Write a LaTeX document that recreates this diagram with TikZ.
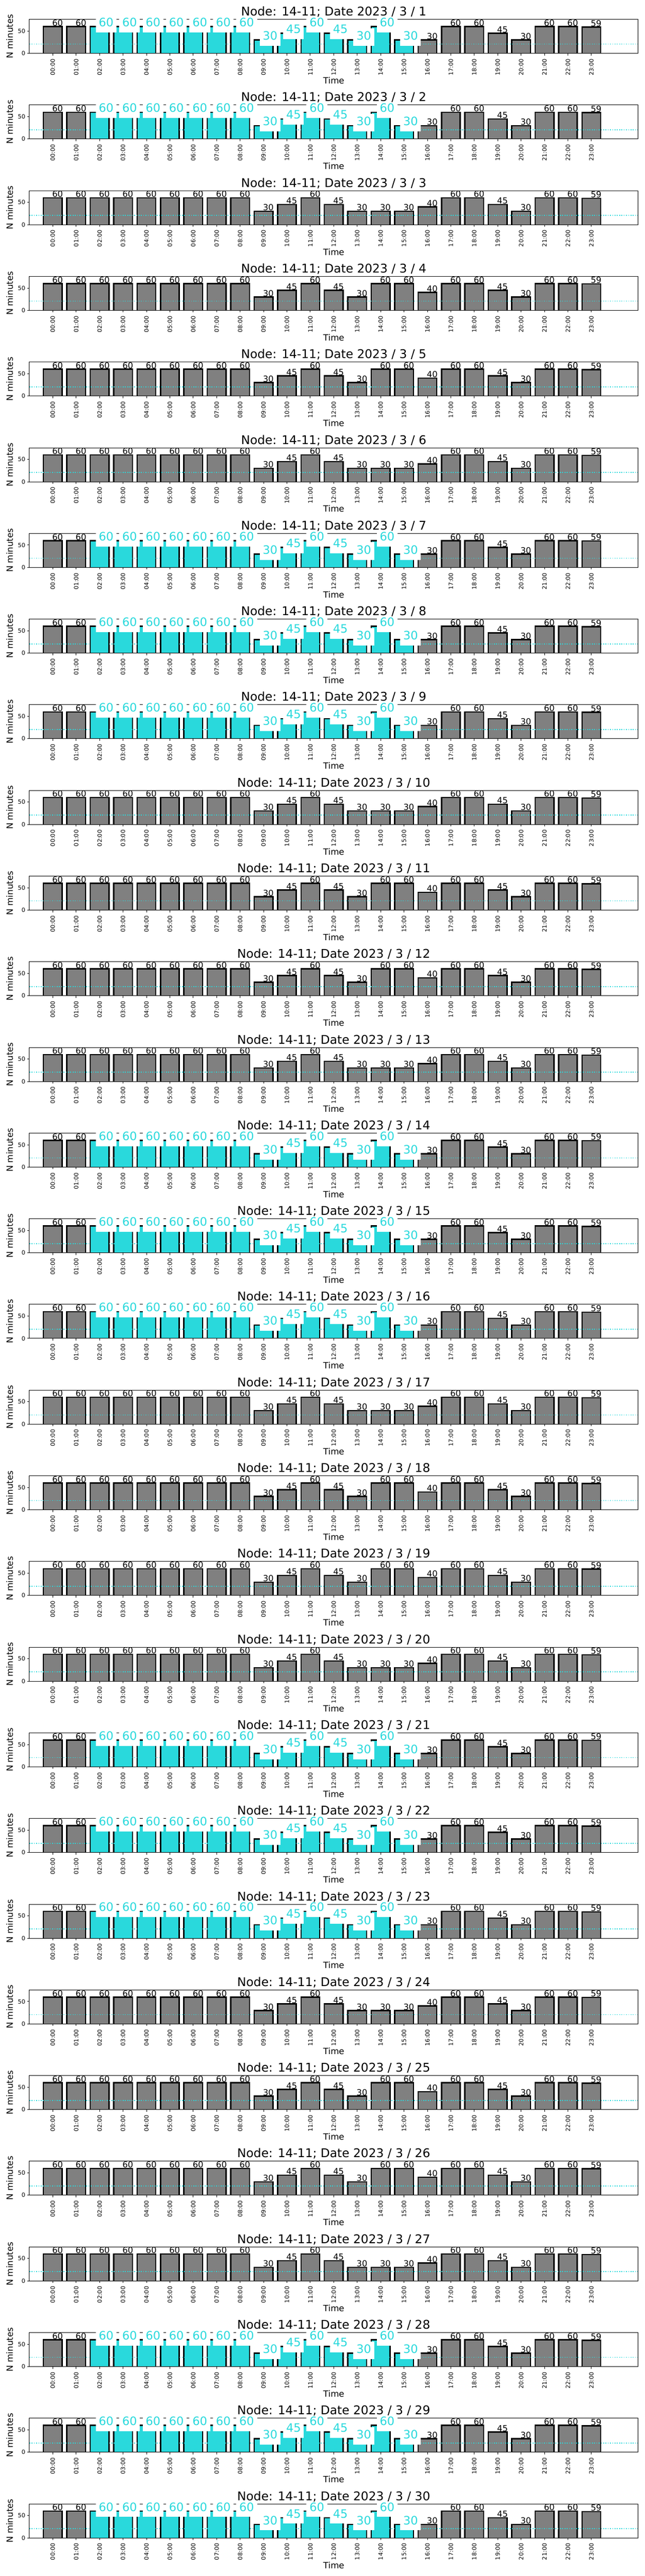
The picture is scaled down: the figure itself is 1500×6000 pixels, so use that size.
\documentclass[tikz,border=0pt]{standalone}
\usepackage{fontspec}
\setmainfont{DejaVu Sans}
\definecolor{barcyan}{RGB}{41,217,220}
\definecolor{bargrey}{RGB}{128,128,128}
\newcommand\ftitle{\fontsize{28pt}{32pt}\selectfont}
\newcommand\faxis{\fontsize{20pt}{24pt}\selectfont}
\newcommand\ftick{\fontsize{13.5pt}{16pt}\selectfont}
\newcommand\flab{\fontsize{19.5pt}{22pt}\selectfont}
\newcommand\fcy{\fontsize{27pt}{30pt}\selectfont}
\def\valsC{60,60,60,60,60,60,60,60,60,30,45,60,45,30,60,30,30,60,60,45,30,60,60,59}
\def\valsA{60,60,60,60,60,60,60,60,60,30,45,60,45,30,30,30,40,60,60,45,30,60,60,59}
\def\valsB{60,60,60,60,60,60,60,60,60,30,45,60,45,30,60,60,40,60,60,45,30,60,60,59}
\tikzset{
  barstyle/.style={draw=black, line width=3pt},
  spine/.style={draw=black, line width=1.1pt},
  cyanline/.style={draw=barcyan, line width=2pt, dash pattern=on 2pt off 3.3pt},
  ticklab/.style={inner sep=0pt, font=\ftick},
  blacklab/.style={anchor=base west, inner sep=0pt, font=\flab, text=black},
  cyanlab/.style={anchor=base west, inner sep=0pt, font=\fcy, text=barcyan},
  whitebox/.style={fill=white}
}
\begin{document}
\begin{tikzpicture}[x=1pt,y=-1pt]
\useasboundingbox[fill=white] (0,0) rectangle (1500,6000);
\foreach \dd/\pat in {1/0,2/0,3/1,4/2,5/2,6/1,7/0,8/0,9/0,10/1,11/2,12/2,13/1,14/0,15/0,16/0,17/1,18/2,19/2,20/1,21/0,22/0,23/0,24/1,25/2,26/2,27/1,28/0,29/0,30/0}{
  \pgfmathsetmacro\yb{124.2+(\dd-1)*199.55}
  \pgfmathsetmacro\yt{\yb-79.2}
  \ifcase\pat \let\curvals\valsC \or \let\curvals\valsA \or \let\curvals\valsB \fi
  % bars
  \begin{scope}
    \clip (68.3,\yt) rectangle (1485.4,\yb);
    \foreach \val [count=\hr from 0] in \curvals {
      \pgfmathsetmacro\xc{122.8+54.5*\hr}
      \pgfmathsetmacro\ytop{\yb-1.04*\val}
      \pgfmathtruncatemacro\iscy{(\pat==0)&&(\hr>1)&&(\hr<16)}
      \ifnum\iscy=1 \def\bc{barcyan}\else\def\bc{bargrey}\fi
      \filldraw[barstyle, fill=\bc] (\xc-21.8,\yb+3) rectangle (\xc+21.8,\ytop);
    }
  \end{scope}
  % threshold line
  \coordinate (l\dd) at (68.3,\yb-21.4);
  \coordinate (r\dd) at (1485.4,\yb-21.4);
  \draw[cyanline] (l\dd) -- (r\dd);
  % frame and ticks
  \draw[spine] (68.3,\yt) rectangle (1485.4,\yb);
  \draw[spine] (68.3,\yb) -- (63.4,\yb);
  \draw[spine] (68.3,\yb-52) -- (63.4,\yb-52);
  \node[ticklab, anchor=east] (y0\dd) at (59,\yb) {0};
  \node[ticklab, anchor=east] (y50\dd) at (59,\yb-52) {50};
  \foreach \hr in {0,...,23} {
    \pgfmathsetmacro\xc{122.8+54.5*\hr}
    \draw[spine] (\xc,\yb) -- (\xc,\yb+4.9);
    \node[ticklab, rotate=90, anchor=east] (x\dd-\hr) at (\xc,\yb+12.5) {\ifnum\hr<10 0\fi\hr:00};
  }
  \node[anchor=base, inner sep=0pt, font=\faxis] (time\dd) at (776.8,\yb+70.8) {Time};
  \node[rotate=90, inner sep=0pt, font=\faxis] (ylab\dd) at (22.5,\yb-39.6) {N minutes};
  % value labels
  \foreach \val [count=\hr from 0] in \curvals {
    \pgfmathsetmacro\xc{122.8+54.5*\hr}
    \pgfmathsetmacro\ytop{\yb-1.04*\val}
    \pgfmathtruncatemacro\iscy{(\pat==0)&&(\hr>1)&&(\hr<16)}
    \ifnum\iscy=1
      \fill[whitebox] (\xc-9,\ytop-27.5) rectangle (\xc+39.4,\ytop+13.7);
      \node[cyanlab] (v\dd-\hr) at (\xc-2,\ytop) {\val};
    \else
      \node[blacklab] (v\dd-\hr) at (\xc-1.5,\ytop-1.5) {\val};
    \fi
  }
  \node[anchor=base, inner sep=0pt, font=\ftitle] (title\dd) at (776.8,\yt-8.3) {Node: 14-11; Date 2023 / 3 / \dd};
}
\end{tikzpicture}
\end{document}
